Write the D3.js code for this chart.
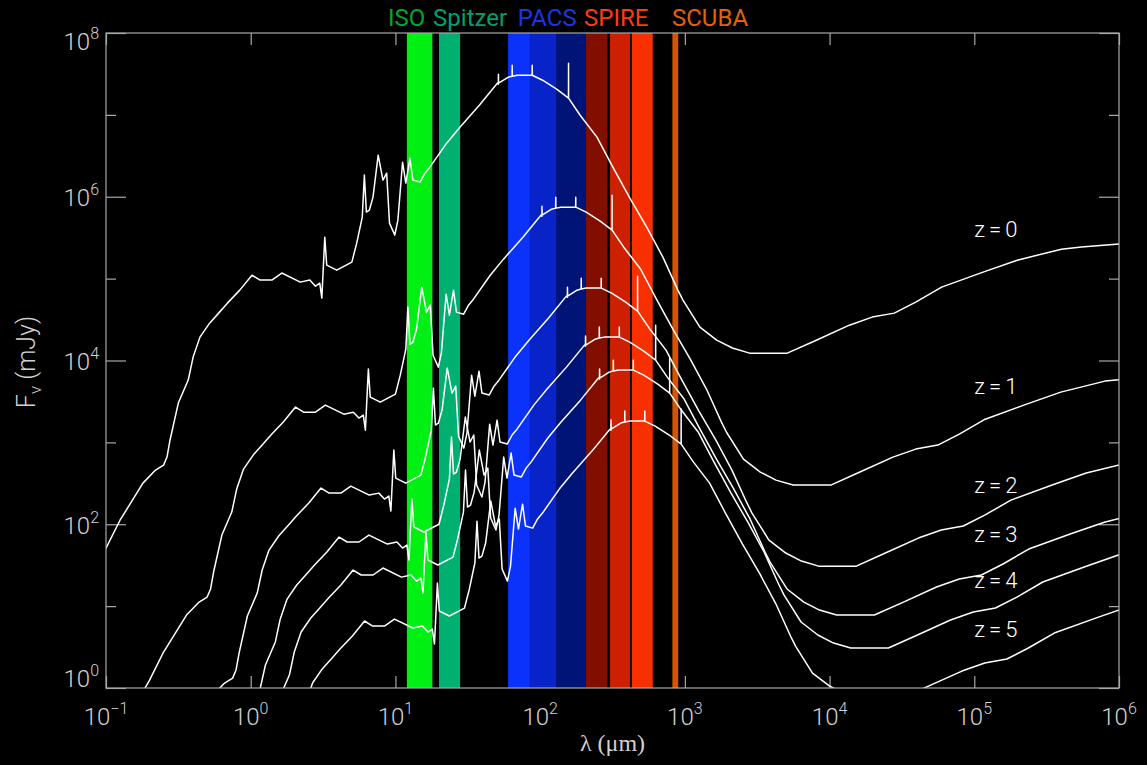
<!DOCTYPE html>
<html>
<head>
<meta charset="utf-8">
<script src="https://cdn.jsdelivr.net/npm/d3@7"></script>
<style>
  body { margin: 0; background: #000; }
  text { font-family: Roboto, "DejaVu Sans", sans-serif; font-weight: 300; }
</style>
</head>
<body>
<div id="container"></div>
<script>
const width = 1147;
const height = 765;
const margin = { t: 33, r: 28, b: 77, l: 106 };

// tick exponents
const xTickExp = [-1, 0, 1, 2, 3, 4, 5, 6];
const yTickExp = [0, 1, 2, 3, 4, 5, 6, 7, 8];
const yLabelExp = [0, 2, 4, 6, 8];

// instrument bands (micron)
const bandNames = ["ISO", "Spitzer", "PACS 1", "PACS 2", "PACS 3", "SPIRE 1", "SPIRE 2", "SPIRE 3", "SCUBA"];
const bandLo = [12, 20, 60, 85, 130, 207, 304, 430, 820];
const bandHi = [18, 28, 85, 130, 207, 292, 418, 600, 900];
const bandColors = ["#00f014", "#00b070", "#0a32fa", "#0824c8", "#001478", "#820e00", "#cc2000", "#f83000", "#d85400"];

const instNames = ["ISO", "Spitzer", "PACS", "SPIRE", "SCUBA"];
const instLabelLam = [8.9, 18.2, 70, 201, 815];
const instColors = ["#00a82a", "#00a070", "#1a36e6", "#ff3a10", "#e2600e"];

const zNames = ["z=0", "z=1", "z=2", "z=3", "z=4", "z=5"];
const zLabelLam = [1.0e5, 1.0e5, 1.0e5, 1.0e5, 1.0e5, 1.0e5];
const zLabelFlux = [3.2e5, 3.9e3, 240, 61, 16.8, 4.2];

// SEDs, wavelength in micron, flux in mJy
const lamZ0 = [0.085, 0.1, 0.125, 0.18, 0.22, 0.25, 0.264, 0.277, 0.316, 0.37, 0.4, 0.446, 0.52, 0.6, 0.69, 0.84, 1.02, 1.16, 1.4, 1.64,
  2.2, 2.56, 2.8, 3.0, 3.1, 3.25, 3.35, 3.93, 5.0, 5.4, 5.9, 6.1, 6.3, 6.6, 7.0, 7.6, 8.2, 8.7, 9.1, 9.9,
  10.4, 11.2, 11.8, 12.6, 13.2, 14.8, 16.0, 17.3, 22.6, 27.9, 38, 50.6, 51.4, 51.5, 51.6, 60, 64, 64.1, 64.2, 69.5,
  88, 88.1, 88.2, 104, 130, 157, 157.1, 157.2, 189, 247, 318, 417, 545, 705, 895, 970, 1270, 1660, 2130, 2800,
  5100, 8100, 1.37e4, 1.97e4, 2.8e4, 3.94e4, 5.95e4, 1.15e5, 1.98e5, 4.0e5, 5.5e5, 1e6];
const fluxZ0 = [31, 51, 112, 318, 459, 528, 662, 1070, 3020, 5770, 1.10e4, 1.93e4, 2.86e4, 3.79e4, 5.02e4, 7.24e4, 1.10e5, 9.6e4, 9.6e4, 1.17e5,
  9.06e4, 9.6e4, 8.09e4, 8.81e4, 5.78e4, 3.21e5, 1.46e5, 1.27e5, 1.59e5, 2.71e5, 5.64e5, 1.84e6, 6.49e5, 6.85e5, 9.9e5, 3.22e6, 1.60e6, 1.94e6, 4.76e5, 3.40e5,
  5.18e5, 2.64e6, 1.47e6, 2.96e6, 1.60e6, 1.51e6, 1.94e6, 2.30e6, 4.51e6, 7.08e6, 1.31e7, 2.44e7, 2.37e7, 3.14e7, 2.44e7, 2.88e7, 2.97e7, 4.05e7, 2.97e7, 3.05e7,
  3.05e7, 4.05e7, 3.05e7, 2.65e7, 2.06e7, 1.60e7, 4.28e7, 1.60e7, 9.9e6, 5.35e6, 2.30e6, 9.6e5, 4.26e5, 1.83e5, 7.24e4, 5.46e4, 2.56e4, 1.77e4, 1.42e4, 1.23e4,
  1.23e4, 1.77e4, 2.70e4, 3.39e4, 3.79e4, 5.16e4, 7.87e4, 1.20e5, 1.68e5, 2.29e5, 2.43e5, 2.64e5];

const lamZ1 = [0.17, 0.2, 0.25, 0.36, 0.44, 0.5, 0.528, 0.554, 0.632, 0.74, 0.8, 0.892, 1.04, 1.2, 1.38, 1.68, 2.04, 2.32, 2.8, 3.28,
  4.4, 5.12, 5.6, 6.0, 6.2, 6.5, 6.7, 7.86, 10, 10.8, 11.8, 12.2, 12.6, 13.2, 14, 15.2, 16.4, 17.4, 18.2, 19.8,
  20.8, 22.4, 23.6, 25.2, 26.4, 29.6, 32, 34.6, 45.2, 55.8, 76, 101.2, 102.8, 103, 103.2, 120, 128, 128.2, 128.4, 139,
  176, 176.2, 176.4, 208, 260, 314, 314.2, 314.4, 378, 494, 636, 834, 1090, 1410, 1790, 1940, 2540, 3320, 4260, 5600,
  1.02e4, 1.62e4, 2.74e4, 3.94e4, 5.6e4, 7.88e4, 1.19e5, 2.3e5, 3.96e5, 8.0e5, 1.1e6];
const fluxZ1 = [0.755, 1.25, 2.75, 7.78, 11.2, 12.9, 16.2, 26.1, 73.8, 141, 269, 472, 700, 927, 1230, 1770, 2700, 2340, 2340, 2850,
  2210, 2340, 1980, 2150, 1410, 7850, 3570, 3100, 3880, 6620, 1.38e4, 4.49e4, 1.58e4, 1.67e4, 2.42e4, 7.87e4, 3.90e4, 4.74e4, 1.16e4, 8300,
  1.26e4, 6.46e4, 3.58e4, 7.23e4, 3.90e4, 3.68e4, 4.74e4, 5.61e4, 1.10e5, 1.73e5, 3.21e5, 5.96e5, 5.79e5, 7.67e5, 5.96e5, 7.05e5, 7.26e5, 9.89e5, 7.26e5, 7.46e5,
  7.46e5, 9.89e5, 7.46e5, 6.49e5, 5.04e5, 3.91e5, 1.04e6, 3.91e5, 2.42e5, 1.31e5, 5.61e4, 2.35e4, 1.04e4, 4480, 1770, 1330, 625, 434, 346, 301,
  301, 434, 661, 828, 927, 1260, 1920, 2930, 4110, 5600, 5930];

const lamZ2 = [0.375, 0.54, 0.66, 0.75, 0.792, 0.831, 0.948, 1.11, 1.2, 1.338, 1.56, 1.8, 2.07, 2.52, 3.06, 3.48, 4.2, 4.92,
  6.6, 7.68, 8.4, 9.0, 9.3, 9.75, 10.05, 11.79, 15, 16.2, 17.7, 18.3, 18.9, 19.8, 21, 22.8, 24.6, 26.1, 27.3, 29.7,
  31.2, 33.6, 35.4, 37.8, 39.6, 44.4, 48, 51.9, 67.8, 83.7, 114, 151.8, 154.2, 154.5, 154.8, 180, 192, 192.3, 192.6, 208.5,
  264, 264.3, 264.6, 312, 390, 471, 471.3, 471.6, 567, 741, 954, 1251, 1635, 2115, 2685, 2910, 3810, 4980, 6390, 8400,
  1.53e4, 2.43e4, 4.11e4, 5.91e4, 8.4e4, 1.18e5, 1.79e5, 3.45e5, 5.94e5, 1.2e6];
const fluxZ2 = [0.282, 0.798, 1.15, 1.32, 1.66, 2.67, 7.57, 14.5, 27.6, 48.4, 71.8, 95.1, 126, 182, 277, 240, 240, 292,
  227, 240, 203, 221, 145, 805, 366, 318, 398, 679, 1410, 4600, 1630, 1720, 2480, 8070, 4000, 4860, 1190, 851,
  1300, 6620, 3670, 7410, 4000, 3780, 4860, 5750, 1.13e4, 1.77e4, 3.29e4, 6.11e4, 5.94e4, 7.87e4, 6.11e4, 7.23e4, 7.45e4, 1.01e5, 7.45e4, 7.66e4,
  7.66e4, 1.01e5, 7.66e4, 6.65e4, 5.16e4, 4.01e4, 1.07e5, 4.01e4, 2.48e4, 1.34e4, 5750, 2410, 1070, 459, 182, 137, 64.1, 44.5, 35.5, 30.8,
  30.8, 44.5, 67.8, 84.9, 95.1, 129, 197, 301, 422, 574];

const lamZ3 = [1.056, 1.108, 1.264, 1.48, 1.6, 1.784, 2.08, 2.4, 2.76, 3.36, 4.08, 4.64, 5.6, 6.56,
  8.8, 10.24, 11.2, 12, 12.4, 13, 13.4, 15.72, 20, 21.6, 23.6, 24.4, 25.2, 26.4, 28, 30.4, 32.8, 34.8, 36.4, 39.6,
  41.6, 44.8, 47.2, 50.4, 52.8, 59.2, 64, 69.2, 90.4, 111.6, 152, 202.4, 205.6, 206, 206.4, 240, 256, 256.4, 256.8, 278,
  352, 352.4, 352.8, 416, 520, 628, 628.4, 628.8, 756, 988, 1272, 1668, 2180, 2820, 3580, 3880, 5080, 6640, 8520, 1.12e4,
  2.04e4, 3.24e4, 5.48e4, 7.88e4, 1.12e5, 1.58e5, 2.38e5, 4.6e5, 7.92e5, 1.6e6];
const fluxZ3 = [0.419, 0.675, 1.91, 3.65, 6.97, 12.2, 18.1, 24.0, 31.8, 45.8, 69.8, 60.7, 60.7, 73.8,
  57.3, 60.7, 51.2, 55.7, 36.6, 203, 92.5, 80.4, 100, 171, 356, 1160, 410, 434, 625, 2040, 1010, 1230, 301, 215,
  327, 1670, 927, 1870, 1010, 953, 1230, 1450, 2850, 4480, 8300, 1.54e4, 1.50e4, 1.99e4, 1.54e4, 1.82e4, 1.88e4, 2.56e4, 1.88e4, 1.93e4,
  1.93e4, 2.56e4, 1.93e4, 1.68e4, 1.30e4, 1.01e4, 2.70e4, 1.01e4, 6270, 3380, 1450, 608, 269, 116, 45.8, 34.5, 16.2, 11.2, 8.95, 7.78,
  7.78, 11.2, 17.1, 21.4, 24.0, 32.7, 49.8, 75.9, 106, 145];

const lamZ4 = [1.385, 1.58, 1.85, 2.0, 2.23, 2.6, 3.0, 3.45, 4.2, 5.1, 5.8, 7.0, 8.2,
  11, 12.8, 14, 15, 15.5, 16.25, 16.75, 19.65, 25, 27, 29.5, 30.5, 31.5, 33, 35, 38, 41, 43.5, 45.5, 49.5,
  52, 56, 59, 63, 66, 74, 80, 86.5, 113, 139.5, 190, 253, 257, 257.5, 258, 300, 320, 320.5, 321, 347.5,
  440, 440.5, 441, 520, 650, 785, 785.5, 786, 945, 1235, 1590, 2085, 2725, 3525, 4475, 4850, 6350, 8300, 1.065e4, 1.4e4,
  2.55e4, 4.05e4, 6.85e4, 9.85e4, 1.4e5, 1.97e5, 2.975e5, 5.75e5, 9.9e5, 2.0e6];
const fluxZ4 = [0.267, 0.755, 1.44, 2.75, 4.83, 7.16, 9.48, 12.6, 18.1, 27.6, 24.0, 24.0, 29.2,
  22.6, 24.0, 20.2, 22.0, 14.5, 80.4, 36.6, 31.8, 39.7, 67.8, 141, 459, 162, 171, 247, 805, 399, 485, 119, 84.9,
  129, 661, 366, 740, 399, 377, 485, 574, 1130, 1770, 3280, 6100, 5930, 7850, 6100, 7210, 7430, 1.01e4, 7430, 7640,
  7640, 1.01e4, 7640, 6640, 5150, 4000, 1.07e4, 4000, 2480, 1340, 574, 240, 106, 45.8, 18.1, 13.6, 6.40, 4.44, 3.54, 3.08,
  3.08, 4.44, 6.76, 8.47, 9.48, 12.9, 19.7, 30.0, 42.1, 57.3];

const lamZ5 = [1.896, 2.22, 2.4, 2.676, 3.12, 3.6, 4.14, 5.04, 6.12, 6.96, 8.4, 9.84,
  13.2, 15.36, 16.8, 18, 18.6, 19.5, 20.1, 23.58, 30, 32.4, 35.4, 36.6, 37.8, 39.6, 42, 45.6, 49.2, 52.2, 54.6, 59.4,
  62.4, 67.2, 70.8, 75.6, 79.2, 88.8, 96, 103.8, 135.6, 167.4, 228, 303.6, 308.4, 309, 309.6, 360, 384, 384.6, 385.2, 417,
  528, 528.6, 529.2, 624, 780, 942, 942.6, 943.2, 1134, 1482, 1908, 2502, 3270, 4230, 5370, 5820, 7620, 9960, 1.278e4, 1.68e4,
  3.06e4, 4.86e4, 8.22e4, 1.182e5, 1.68e5, 2.364e5, 3.57e5, 6.9e5, 1.19e6];
const fluxZ5 = [0.180, 0.344, 0.656, 1.15, 1.71, 2.26, 2.99, 4.32, 6.58, 5.71, 5.71, 6.95,
  5.40, 5.71, 4.82, 5.25, 3.44, 19.1, 8.71, 7.57, 9.46, 16.1, 33.6, 109, 38.6, 40.8, 58.9, 192, 95.1, 116, 28.4, 20.2,
  30.8, 157, 87.3, 176, 95.1, 89.7, 116, 137, 269, 422, 782, 1450, 1410, 1870, 1450, 1720, 1770, 2410, 1770, 1820,
  1820, 2410, 1820, 1580, 1230, 953, 2550, 953, 590, 318, 137, 57.3, 25.4, 10.9, 4.32, 3.25, 1.52, 1.06, 0.843, 0.733,
  0.733, 1.06, 1.61, 2.02, 2.26, 3.08, 4.69, 7.14, 10.0];

const seds = [
  d3.zip(lamZ0, fluxZ0),
  d3.zip(lamZ1, fluxZ1),
  d3.zip(lamZ2, fluxZ2),
  d3.zip(lamZ3, fluxZ3),
  d3.zip(lamZ4, fluxZ4),
  d3.zip(lamZ5, fluxZ5)
];

const x = d3.scaleLog()
  .domain([1e-1, 1e6])
  .range([margin.l, width - margin.r]);

const y = d3.scaleLog()
  .domain([1, 1e8])
  .range([height - margin.b, margin.t]);

const axisColor = "#a8a8a8";
const labelColor = "#d2d2d2";

const svg = d3.select("#container")
  .append("svg")
  .attr("width", width)
  .attr("height", height)
  .style("display", "block")
  .style("background", "#000");

svg.append("clipPath")
  .attr("id", "plot-clip")
  .append("rect")
  .attr("x", margin.l)
  .attr("y", margin.t)
  .attr("width", width - margin.l - margin.r)
  .attr("height", height - margin.t - margin.b);

// ticks (under the bands, like the original)
const xVals = xTickExp.map(e => 10 ** e);
const yMajor = yTickExp.filter(e => e % 2 === 0).map(e => 10 ** e);
const yMinor = yTickExp.filter(e => e % 2 !== 0).map(e => 10 ** e);

function styleAxis(g) {
  g.select(".domain").remove();
  g.selectAll("line").attr("stroke", axisColor).attr("stroke-width", 1.2);
  g.selectAll("text").remove();
}

svg.append("g")
  .attr("transform", `translate(0,${height - margin.b})`)
  .call(d3.axisBottom(x).tickValues(xVals).tickSize(-12).tickSizeOuter(0))
  .call(styleAxis);

svg.append("g")
  .attr("transform", `translate(0,${margin.t})`)
  .call(d3.axisTop(x).tickValues(xVals).tickSize(-12).tickSizeOuter(0))
  .call(styleAxis);

svg.append("g")
  .attr("transform", `translate(${margin.l},0)`)
  .call(d3.axisLeft(y).tickValues(yMajor).tickSize(-20).tickSizeOuter(0))
  .call(styleAxis);

svg.append("g")
  .attr("transform", `translate(${margin.l},0)`)
  .call(d3.axisLeft(y).tickValues(yMinor).tickSize(-10).tickSizeOuter(0))
  .call(styleAxis);

svg.append("g")
  .attr("transform", `translate(${width - margin.r},0)`)
  .call(d3.axisRight(y).tickValues(yMajor).tickSize(-20).tickSizeOuter(0))
  .call(styleAxis);

svg.append("g")
  .attr("transform", `translate(${width - margin.r},0)`)
  .call(d3.axisRight(y).tickValues(yMinor).tickSize(-10).tickSizeOuter(0))
  .call(styleAxis);

// instrument bands
svg.append("g")
  .selectAll("rect")
  .data(bandNames)
  .enter()
  .append("rect")
  .attr("x", (d, i) => x(bandLo[i]))
  .attr("width", (d, i) => x(bandHi[i]) - x(bandLo[i]))
  .attr("y", margin.t)
  .attr("height", height - margin.t - margin.b)
  .attr("fill", (d, i) => bandColors[i]);

// SED curves
const line = d3.line()
  .x(d => x(d[0]))
  .y(d => y(d[1]));

svg.append("g")
  .attr("clip-path", "url(#plot-clip)")
  .selectAll("path")
  .data(seds)
  .enter()
  .append("path")
  .attr("d", line)
  .attr("fill", "none")
  .attr("stroke", "#ffffff")
  .attr("stroke-width", 1.5)
  .attr("stroke-linejoin", "round");

// frame
svg.append("rect")
  .attr("x", margin.l)
  .attr("y", margin.t)
  .attr("width", width - margin.l - margin.r)
  .attr("height", height - margin.t - margin.b)
  .attr("fill", "none")
  .attr("stroke", axisColor)
  .attr("stroke-width", 1.2);

// tick labels 10^n
function power(sel, e) {
  sel.append("tspan").text("10");
  sel.append("tspan")
    .attr("dy", -11)
    .attr("font-size", 16)
    .text(e < 0 ? "\u2212" + (-e) : e);
}

xTickExp.forEach(e => {
  svg.append("text")
    .attr("x", x(10 ** e))
    .attr("y", 725)
    .attr("text-anchor", "middle")
    .attr("font-size", 24)
    .attr("fill", labelColor)
    .call(power, e);
});

yLabelExp.forEach(e => {
  const v = 10 ** e;
  const dy = e === 8 ? 17 : e === 0 ? -1 : 9.5;
  svg.append("text")
    .attr("x", margin.l - 7)
    .attr("y", y(v) + dy)
    .attr("text-anchor", "end")
    .attr("font-size", 24)
    .attr("fill", labelColor)
    .call(power, e);
});

// axis titles
svg.append("text")
  .attr("x", (margin.l + width - margin.r) / 2)
  .attr("y", 751)
  .attr("text-anchor", "middle")
  .attr("font-size", 24)
  .style("font-family", "\"Liberation Serif\", \"DejaVu Serif\", serif")
  .style("font-weight", 400)
  .attr("fill", labelColor)
  .text("\u03bb (\u03bcm)");

const yTitle = svg.append("text")
  .attr("transform", "translate(35,362) rotate(-90)")
  .attr("text-anchor", "middle")
  .attr("font-size", 25)
  .attr("fill", labelColor);
yTitle.append("tspan").text("F");
yTitle.append("tspan").attr("dy", 6).attr("font-size", 17).text("\u03bd");
yTitle.append("tspan").attr("dy", -6).text(" (mJy)");

// instrument names above the plot
svg.append("g")
  .selectAll("text")
  .data(instNames)
  .enter()
  .append("text")
  .attr("x", (d, i) => x(instLabelLam[i]))
  .attr("y", 26)
  .attr("font-size", 24)
  .style("font-weight", 400)
  .attr("fill", (d, i) => instColors[i])
  .text(d => d);

// redshift labels
svg.append("g")
  .selectAll("text")
  .data(zNames)
  .enter()
  .append("text")
  .attr("x", (d, i) => x(zLabelLam[i]))
  .attr("y", (d, i) => y(zLabelFlux[i]))
  .attr("font-size", 22)
  .attr("letter-spacing", 4)
  .attr("fill", "#ffffff")
  .text(d => d);
</script>
</body>
</html>
